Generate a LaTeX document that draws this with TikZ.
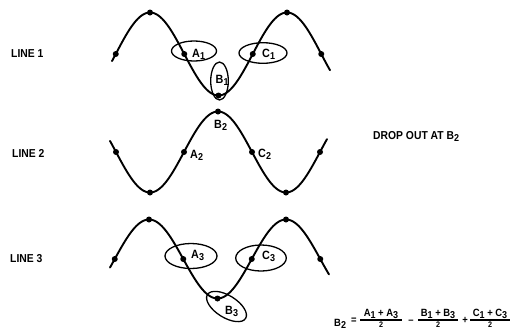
\documentclass[tikz,border=0pt]{standalone}
\usepackage{fontspec}
\setmainfont{Liberation Sans}[FakeStretch=0.9]
\newcommand\sbx[1]{\raisebox{-0.4ex}{\fontsize{10}{10}\selectfont #1}}
\tikzset{
  wave/.style={line width=1.9pt, line cap=round},
  ring/.style={line width=1.3pt},
  lab/.style={font=\fontsize{12}{12}\selectfont\bfseries, inner sep=0pt, anchor=base west},
  side/.style={font=\fontsize{11.5}{12}\selectfont\bfseries, inner sep=0pt, anchor=base west},
  frm/.style={font=\fontsize{10.5}{11}\selectfont\bfseries, inner sep=0pt},
  den/.style={font=\fontsize{8}{8}\selectfont\bfseries, inner sep=0pt, anchor=north},
}
\begin{document}
\begin{tikzpicture}[x=1pt,y=-1pt]
\useasboundingbox (0,0) rectangle (510,330);
% waves
\draw[wave] plot[domain=112:330, samples=150, smooth] (\x,{54-41.5*cos((\x-150)/137*360)});
\draw[wave] plot[domain=110:327, samples=150, smooth] (\x,{152+40.5*cos((\x-150)/136*360)});
\draw[wave] plot[domain=110:329, samples=150, smooth] (\x,{259-39.5*cos((\x-149)/137*360)});
% dots
\foreach \px in {115.75,150,184.25,218.5,252.75,287,321.25}
  \fill (\px,{54-41.5*cos((\px-150)/137*360)}) circle (3pt);
\foreach \px in {116,150,184,218,252,286,320}
  \fill (\px,{152+40.5*cos((\px-150)/136*360)}) circle (3pt);
\foreach \px in {114.75,149,183.25,217.5,251.75,286,320.25}
  \fill (\px,{259-39.5*cos((\px-149)/137*360)}) circle (3pt);
% rings line 1
\draw[ring] (194,51) ellipse [x radius=22.5pt, y radius=10pt];
\draw[ring] (263,53) ellipse [x radius=24pt, y radius=10.3pt];
\draw[ring] (219.5,81) ellipse [x radius=8.8pt, y radius=19pt];
% rings line 3
\draw[ring] (191,256) ellipse [x radius=26pt, y radius=12.5pt];
\draw[ring] (261,258) ellipse [x radius=25.3pt, y radius=13pt];
\draw[ring, shift={(226.5,306.5)}, rotate=-32] (0,0) ellipse [x radius=22.5pt, y radius=11pt];
% point labels
\node[lab] (a1) at (192,57) {A\sbx{1}};
\node[lab] (c1) at (262,57) {C\sbx{1}};
\node[lab] (b1) at (215.5,83) {B\sbx{1}};
\node[lab] (b2) at (214,128) {B\sbx{2}};
\node[lab] (a2) at (190,158) {A\sbx{2}};
\node[lab] (c2) at (258,157) {C\sbx{2}};
\node[lab] (a3) at (191,258) {A\sbx{3}};
\node[lab] (c3) at (262,259) {C\sbx{3}};
\node[lab] (b3) at (225,314) {B\sbx{3}};
% side labels
\node[side] (l1) at (11,57) {LINE 1};
\node[side] (l2) at (12,157) {LINE 2};
\node[side] (l3) at (10,262) {LINE 3};
\node[side] (drop) at (373,139) {DROP OUT AT B\sbx{2}};
% formula
\node[frm, anchor=base west] (fb2) at (334,326) {B\sbx{2}};
\node[frm] (eq) at (354,321) {=};
\node[frm, anchor=base] (n1) at (381,316) {A\sbx{1} + A\sbx{3}};
\node[frm, anchor=base] (n2) at (438,316) {B\sbx{1} + B\sbx{3}};
\node[frm, anchor=base] (n3) at (490,316) {C\sbx{1} + C\sbx{3}};
\draw[line width=1.2pt] (360,320) -- (402,320);
\draw[line width=1.2pt] (418,320) -- (458,320);
\draw[line width=1.2pt] (470,320) -- (510,320);
\node[frm] (mi) at (411,322) {\textendash};
\node[frm] (pl) at (465,320) {+};
\node[den] (d1) at (381,322) {2};
\node[den] (d2) at (438,322) {2};
\node[den] (d3) at (490,322) {2};
\end{tikzpicture}
\end{document}
